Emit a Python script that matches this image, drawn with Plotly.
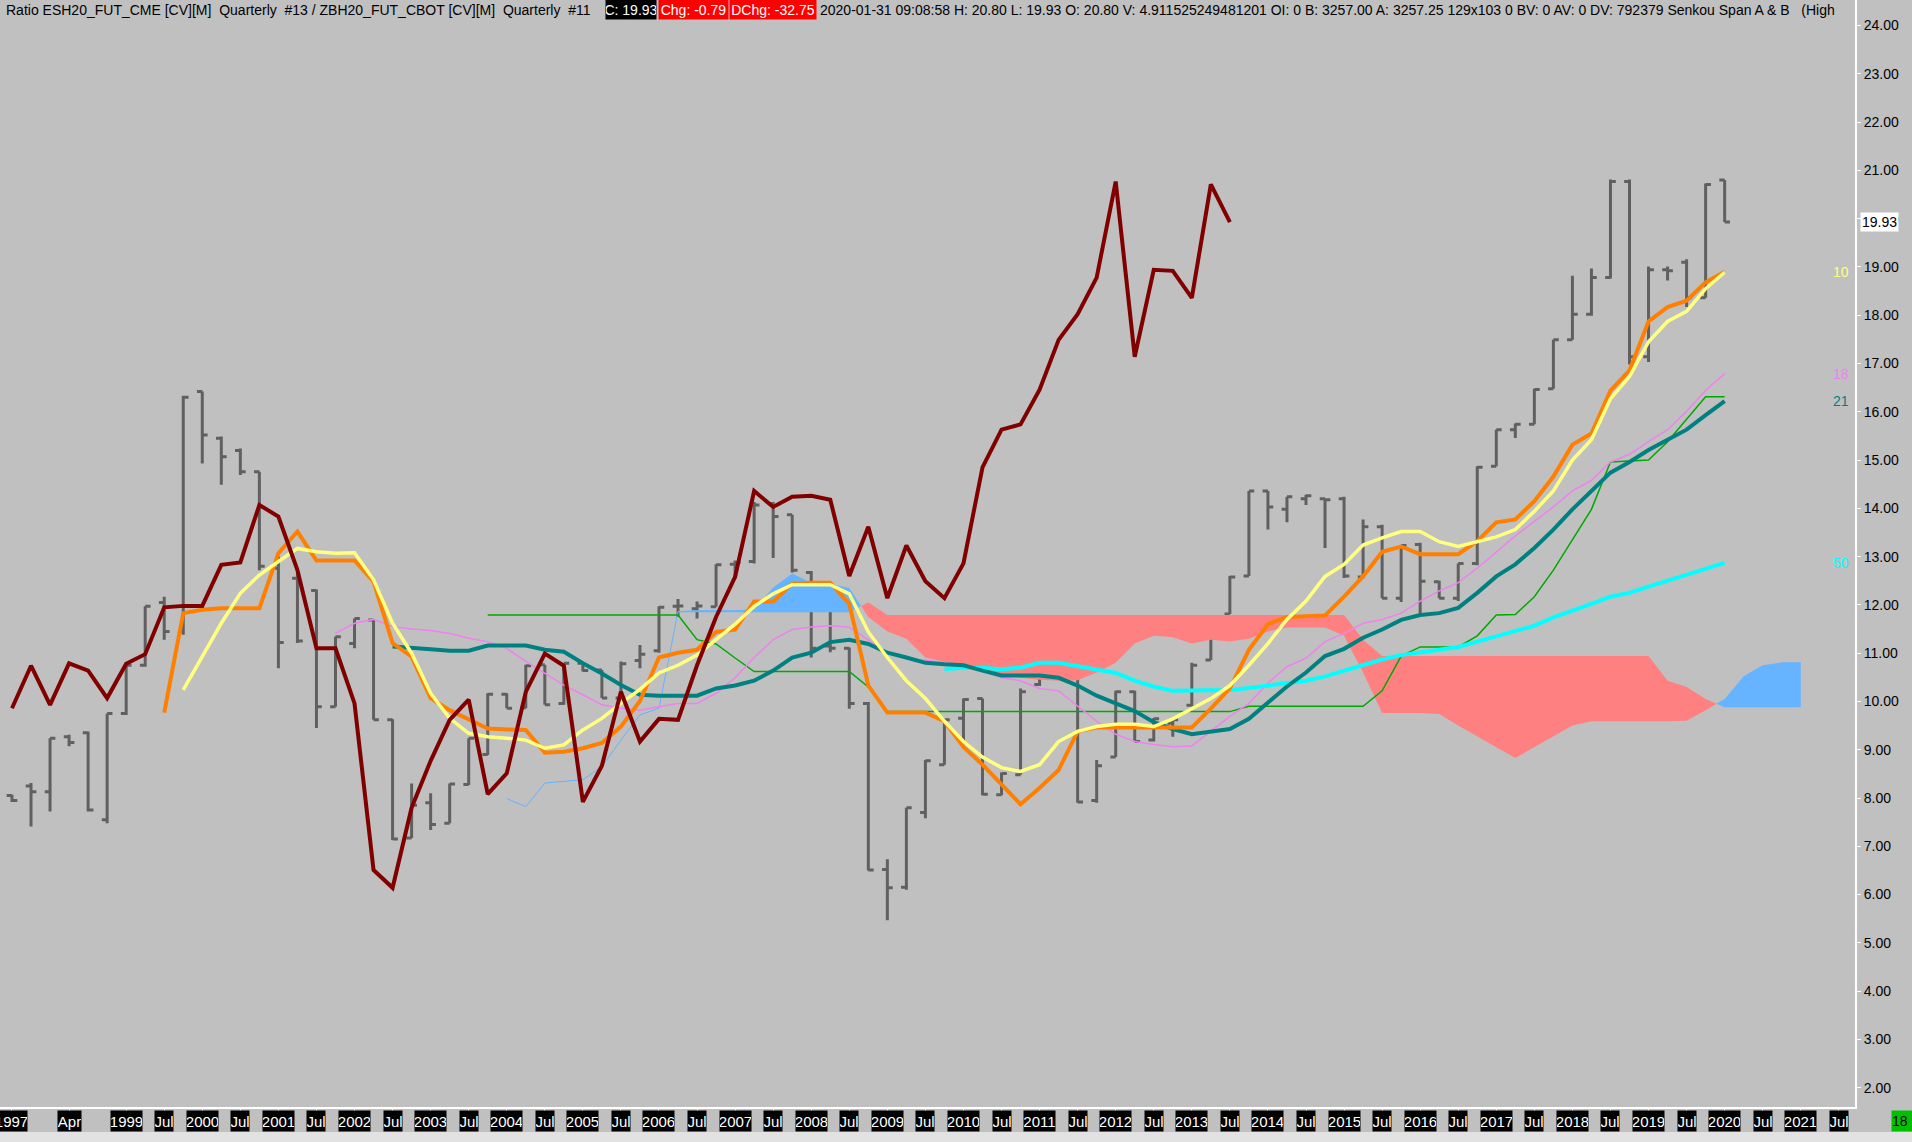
import numpy as np
import plotly.graph_objects as go

# Quarterly bars, ratio ES / ZB, first bar = 1997Q3
first_quarter = "1997Q3"

open_px = [8.05, 8.25, 8.13, 9.27, 9.35, 7.55, 9.75, 10.75, 12.05, 11.45,
           16.42, 15.45, 15.20, 14.76, 12.76, 12.55, 12.30, 9.89, 11.20, 11.69,
           9.62, 7.17, 7.90, 7.48, 8.28, 8.90, 10.15, 9.87, 10.76, 9.96,
           10.79, 10.65, 10.07, 10.85, 11.05, 11.97, 11.92, 11.96, 12.84, 12.90,
           14.10, 13.87, 12.67, 11.15, 11.10, 9.96, 6.52, 6.15, 7.70, 8.69,
           9.65, 10.06, 8.07, 8.48, 10.35, 10.98, 10.70, 7.95, 8.85, 10.20,
           9.20, 9.55, 9.92, 10.86, 11.81, 12.60, 14.36, 13.98, 14.20, 14.20,
           14.20, 12.58, 13.62, 12.14, 13.25, 12.48, 12.14, 12.86, 14.87, 15.63,
           15.74, 16.48, 17.49, 18.02, 18.78, 20.77, 17.14, 18.94, 19.10, 18.36,
           20.80]
high_px = [8.07, 8.31, 9.24, 9.31, 9.38, 9.75, 10.76, 11.97, 12.17, 16.33,
           16.42, 15.49, 15.24, 14.76, 13.00, 12.66, 12.32, 11.34, 11.72, 11.69,
           9.63, 8.30, 8.10, 8.30, 9.24, 10.17, 10.17, 10.76, 10.76, 10.79,
           10.79, 10.65, 10.83, 11.17, 11.97, 12.12, 12.07, 12.84, 12.92, 14.13,
           14.13, 13.87, 12.70, 11.95, 11.12, 9.99, 6.73, 7.80, 8.79, 9.64,
           10.06, 10.06, 8.53, 10.27, 11.00, 11.00, 10.70, 8.79, 10.22, 10.22,
           9.66, 9.66, 10.80, 11.79, 12.60, 14.36, 14.36, 14.24, 14.28, 14.20,
           14.24, 13.77, 13.66, 13.24, 13.29, 12.50, 12.86, 14.87, 15.63, 15.76,
           16.48, 17.49, 18.82, 18.97, 20.81, 20.81, 19.01, 19.01, 19.16, 20.73,
           20.80]
low_px = [7.92, 7.41, 7.72, 9.07, 7.72, 7.48, 9.72, 10.72, 11.28, 11.38,
          14.93, 14.49, 14.69, 12.72, 10.69, 11.21, 9.45, 9.89, 11.10, 9.62,
          7.13, 7.17, 7.34, 7.48, 8.27, 8.89, 9.86, 9.86, 9.93, 9.93,
          10.62, 10.07, 10.07, 10.69, 11.01, 11.75, 11.72, 11.96, 12.55, 12.86,
          12.97, 12.67, 10.91, 11.02, 9.85, 6.50, 5.47, 6.10, 7.58, 8.69,
          9.11, 8.06, 8.06, 8.48, 10.32, 10.70, 7.90, 7.90, 8.85, 9.17,
          9.17, 9.27, 9.90, 10.86, 11.81, 12.60, 13.56, 13.71, 14.07, 13.18,
          12.56, 12.55, 12.14, 12.06, 11.79, 12.14, 12.08, 12.82, 14.87, 15.46,
          15.74, 16.48, 17.49, 17.99, 18.76, 16.98, 17.03, 18.72, 18.17, 18.36,
          19.93]
close_px = [7.95, 8.13, 9.24, 9.15, 7.75, 9.75, 10.75, 11.97, 11.45, 16.30,
            15.52, 15.07, 14.76, 12.80, 11.22, 11.25, 9.89, 11.34, 11.72, 9.62,
            7.15, 7.85, 7.45, 8.29, 9.24, 10.15, 9.86, 10.74, 9.93, 10.79,
            10.64, 10.07, 10.78, 10.98, 11.95, 11.98, 11.98, 12.83, 12.88, 14.07,
            13.83, 12.72, 11.10, 11.10, 9.96, 6.51, 6.14, 7.80, 8.77, 9.62,
            10.04, 8.08, 8.51, 10.20, 10.99, 10.74, 7.92, 8.67, 10.20, 9.17,
            9.64, 9.62, 10.75, 11.75, 12.58, 14.36, 14.03, 14.24, 14.26, 14.18,
            12.60, 13.62, 12.14, 13.23, 12.49, 12.14, 12.86, 14.85, 15.63, 15.74,
            16.46, 17.49, 18.02, 18.78, 20.77, 17.14, 18.94, 18.92, 18.36, 20.71,
            19.93]

# lagging span = close plotted 26 bars back
lag_shift = 26

# orange line (no label)
orange_start = "1999Q3"
orange_vals = [9.77, 11.83, 11.90, 11.93, 11.93, 11.93, 13.07, 13.52, 12.92, 12.92,
               12.92, 12.48, 11.21, 10.93, 10.07, 9.82, 9.62, 9.44, 9.42, 9.41,
               8.94, 8.96, 9.03, 9.14, 9.48, 10.01, 10.91, 11.01, 11.07, 11.44,
               11.49, 12.07, 12.07, 12.44, 12.46, 12.46, 12.02, 10.33, 9.77, 9.77,
               9.77, 9.59, 9.06, 8.69, 8.27, 7.87, 8.21, 8.58, 9.38, 9.46,
               9.46, 9.46, 9.46, 9.46, 9.46, 9.85, 10.27, 11.07, 11.60, 11.75,
               11.76, 11.78, 12.17, 12.59, 13.10, 13.21, 13.05, 13.05, 13.05, 13.32,
               13.71, 13.77, 14.15, 14.66, 15.32, 15.55, 16.44, 16.86, 17.87, 18.17,
               18.30, 18.68, 18.90]

# average 10
ma10_start = "1999Q4"
ma10_vals = [10.24, 10.93, 11.62, 12.24, 12.62, 12.90, 13.17, 13.10, 13.07, 13.08,
             12.52, 11.62, 11.00, 10.17, 9.65, 9.34, 9.27, 9.24, 9.20, 9.03,
             9.10, 9.41, 9.65, 9.96, 10.25, 10.59, 10.75, 10.96, 11.28, 11.60,
             11.97, 12.23, 12.42, 12.42, 12.42, 12.23, 11.44, 10.91, 10.43, 10.06,
             9.59, 9.17, 8.85, 8.63, 8.55, 8.69, 9.17, 9.38, 9.48, 9.53,
             9.53, 9.48, 9.64, 9.85, 10.06, 10.33, 10.75, 11.20, 11.70, 12.08,
             12.59, 12.84, 13.24, 13.39, 13.52, 13.52, 13.31, 13.21, 13.31, 13.41,
             13.56, 13.94, 14.36, 15.00, 15.42, 16.27, 16.73, 17.45, 17.87, 18.08,
             18.55, 18.89]

# average 18
ma18_start = "2001Q4"
ma18_vals = [11.41, 11.62, 11.70, 11.55, 11.50, 11.47, 11.41, 11.31, 11.24, 11.10,
             10.83, 10.58, 10.34, 10.14, 9.93, 9.86, 9.82, 9.89, 9.96, 9.96,
             10.17, 10.49, 10.91, 11.28, 11.49, 11.54, 11.57, 11.54, 11.28, 11.01,
             10.88, 10.86, 10.80, 10.75, 10.64, 10.49, 10.43, 10.27, 10.22, 9.90,
             9.59, 9.32, 9.17, 9.11, 9.06, 9.08, 9.38, 9.69, 9.96, 10.38,
             10.72, 10.90, 11.24, 11.41, 11.62, 11.70, 11.83, 12.08, 12.29, 12.46,
             12.76, 13.10, 13.43, 13.73, 14.03, 14.36, 14.58, 14.96, 15.12, 15.38,
             15.63, 16.01, 16.44, 16.79]

# average 21
ma21_start = "2002Q3"
ma21_vals = [11.14, 11.10, 11.08, 11.05, 11.05, 11.16, 11.16, 11.16, 11.07, 11.03,
             10.79, 10.58, 10.34, 10.14, 10.12, 10.12, 10.12, 10.27, 10.33, 10.43,
             10.64, 10.91, 11.01, 11.23, 11.28, 11.19, 11.01, 10.91, 10.80, 10.77,
             10.75, 10.64, 10.54, 10.54, 10.54, 10.49, 10.33, 10.12, 9.96, 9.80,
             9.57, 9.43, 9.32, 9.38, 9.43, 9.64, 9.97, 10.31, 10.60, 10.94,
             11.09, 11.32, 11.49, 11.69, 11.79, 11.83, 11.94, 12.25, 12.59, 12.84,
             13.18, 13.56, 13.98, 14.36, 14.74, 14.96, 15.21, 15.42, 15.63, 15.93,
             16.22]

# average 50
ma50_start = "2009Q4"
ma50_vals = [10.67, 10.70, 10.70, 10.67, 10.70, 10.80, 10.80, 10.73, 10.64, 10.59,
             10.43, 10.31, 10.22, 10.22, 10.22, 10.24, 10.28, 10.33, 10.39, 10.43,
             10.52, 10.64, 10.77, 10.87, 10.96, 11.01, 11.07, 11.13, 11.24, 11.35,
             11.45, 11.57, 11.74, 11.87, 12.02, 12.17, 12.25, 12.38, 12.50, 12.63,
             12.76, 12.87]

# kijun (green)
kijun_start = "2003Q4"
kijun_vals = [11.79, 11.79, 11.79, 11.79, 11.79, 11.79, 11.79, 11.79, 11.79, 11.79,
              11.79, 11.28, 11.19, 10.90, 10.62, 10.62, 10.62, 10.62, 10.62, 10.62,
              10.30, 9.79, 9.79, 9.79, 9.79, 9.79, 9.79, 9.79, 9.79, 9.79,
              9.79, 9.79, 9.79, 9.79, 9.79, 9.79, 9.79, 9.79, 9.79, 9.79,
              9.90, 9.90, 9.90, 9.90, 9.90, 9.90, 9.90, 10.22, 10.94, 11.13,
              11.13, 11.13, 11.36, 11.79, 11.80, 12.17, 12.72, 13.35, 13.98, 14.96,
              14.98, 15.00, 15.38, 15.84, 16.31, 16.31]

# Senkou Span A & B
span_a_start = "2004Q1"
span_a_vals = [7.99, 7.82, 8.31, 8.34, 8.38, 8.65, 9.20, 9.72, 9.86, 11.86,
               11.88, 11.88, 11.88, 11.90, 12.36, 12.65, 12.46, 12.44, 12.35, 11.75,
               11.45, 11.30, 10.91, 10.82, 10.77, 10.62, 10.56, 10.49, 10.45, 10.43,
               10.44, 10.60, 10.80, 11.20, 11.36, 11.33, 11.20, 11.28, 11.24, 11.30,
               11.45, 11.53, 11.53, 11.53, 11.36, 10.60, 9.76, 9.76, 9.76, 9.74,
               9.50, 9.27, 9.05, 8.83, 9.06, 9.28, 9.50, 9.59, 9.59, 9.59,
               9.59, 9.59, 9.60, 9.82, 10.05, 10.52, 10.75, 10.81, 10.81]
span_a_line_end = "2007Q2"
span_b_start = "2006Q2"
span_b_vals = [11.85, 11.85, 11.85, 11.85, 11.85, 11.85, 11.85, 11.85, 11.85, 11.85,
               12.05, 11.79, 11.79, 11.79, 11.79, 11.79, 11.79, 11.79, 11.79, 11.79,
               11.79, 11.79, 11.79, 11.79, 11.79, 11.79, 11.79, 11.79, 11.79, 11.79,
               11.79, 11.79, 11.79, 11.79, 11.79, 11.79, 11.28, 10.94, 10.94, 10.94,
               10.94, 10.94, 10.94, 10.94, 10.94, 10.94, 10.94, 10.94, 10.94, 10.94,
               10.94, 10.94, 10.43, 10.30, 10.05, 9.88, 9.88, 9.88, 9.88, 9.88]

tick_quarters = ["1997Q3", "1998Q2"] + [f"{y}Q{q}" for y in range(1999, 2022) for q in (1, 3)]
tick_text = ["1997", "Apr"] + [str(y) if q == 1 else "Jul" for y in range(1999, 2022) for q in (1, 3)]

last_price = "19.93"
header_main = "Ratio ESH20_FUT_CME [CV][M]  Quarterly  #13 / ZBH20_FUT_CBOT [CV][M]  Quarterly  #11"
header_close = "C: 19.93"
header_chg = "Chg: -0.79"
header_dchg = "DChg: -32.75"
header_rest = ("2020-01-31 09:08:58 H: 20.80 L: 19.93 O: 20.80 V: 4.911525249481201 OI: 0 "
               "B: 3257.00 A: 3257.25 129x103 0 BV: 0 AV: 0 DV: 792379 Senkou Span A & B   (High")

BG = "#c0c0c0"
FONT = "Liberation Sans"


def qidx(q):
    y0, q0 = int(first_quarter[:4]), int(first_quarter[5])
    return (int(q[:4]) - y0) * 4 + int(q[5]) - q0


def xs_for(start, vals):
    return np.arange(len(vals)) + qidx(start)


def nb(s):
    return s.replace("  ", "\u00a0\u00a0")


fig = go.Figure()

# --- ichimoku cloud, split where span A and span B cross
xa = xs_for(span_a_start, span_a_vals)
xb = xs_for(span_b_start, span_b_vals)
c0 = max(xa[0], xb[0])
c1 = min(xa[-1], xb[-1])
cx = np.arange(c0, c1 + 1)
ca = np.array(span_a_vals)[cx - xa[0]]
cb = np.array(span_b_vals)[cx - xb[0]]

runs = []
px, up, lo = [cx[0]], [max(ca[0], cb[0])], [min(ca[0], cb[0])]
sign = ca[0] >= cb[0]
for k in range(1, len(cx)):
    s = ca[k] >= cb[k]
    if s != sign:
        d0, d1 = ca[k - 1] - cb[k - 1], ca[k] - cb[k]
        t = d0 / (d0 - d1)
        xc = cx[k - 1] + t
        yc = ca[k - 1] + t * (ca[k] - ca[k - 1])
        px.append(xc); up.append(yc); lo.append(yc)
        runs.append((sign, px, up, lo))
        px, up, lo = [xc], [yc], [yc]
        sign = s
    px.append(cx[k]); up.append(max(ca[k], cb[k])); lo.append(min(ca[k], cb[k]))
runs.append((sign, px, up, lo))

for bull, px, up, lo in runs:
    fig.add_trace(go.Scatter(
        x=list(px) + list(px)[::-1], y=list(up) + list(lo)[::-1],
        fill="toself", fillcolor="#66b3ff" if bull else "#ff8080",
        mode="lines", line=dict(width=0), hoverinfo="skip"))

# span A line before the cloud
n_line = qidx(span_a_line_end) - qidx(span_a_start) + 1
fig.add_trace(go.Scatter(x=xa[:n_line], y=span_a_vals[:n_line], mode="lines",
                         line=dict(color="#66b3ff", width=1)))

# thin lines
fig.add_trace(go.Scatter(x=xs_for(kijun_start, kijun_vals), y=kijun_vals, mode="lines",
                         line=dict(color="#00a800", width=1.5)))
fig.add_trace(go.Scatter(x=xs_for(ma18_start, ma18_vals), y=ma18_vals, mode="lines",
                         line=dict(color="#ee82ee", width=1.5)))

# thick averages
fig.add_trace(go.Scatter(x=xs_for(ma50_start, ma50_vals), y=ma50_vals, mode="lines",
                         line=dict(color="#00ffff", width=4)))
fig.add_trace(go.Scatter(x=xs_for(ma21_start, ma21_vals), y=ma21_vals, mode="lines",
                         line=dict(color="#008080", width=4)))
fig.add_trace(go.Scatter(x=xs_for(orange_start, orange_vals), y=orange_vals, mode="lines",
                         line=dict(color="#ff8000", width=4)))
fig.add_trace(go.Scatter(x=xs_for(ma10_start, ma10_vals), y=ma10_vals, mode="lines",
                         line=dict(color="#ffff80", width=3.5)))

# bars
bar_x = np.arange(len(close_px))
fig.add_trace(go.Ohlc(
    x=bar_x, open=open_px, high=high_px, low=low_px, close=close_px,
    increasing=dict(line=dict(color="#606060", width=3)),
    decreasing=dict(line=dict(color="#606060", width=3)),
    tickwidth=0.28, hoverinfo="skip"))

# lagging span
fig.add_trace(go.Scatter(x=bar_x[:-lag_shift], y=close_px[lag_shift:], mode="lines",
                         line=dict(color="#800000", width=4)))

annotations = []

# time axis labels (white on black)
label_y = -14 / 1107
for q, t in zip(tick_quarters, tick_text):
    annotations.append(dict(
        x=qidx(q), y=label_y, xref="x", yref="paper", text=t, showarrow=False,
        font=dict(family="Liberation Sans Narrow, " + FONT, size=15, color="white"),
        bgcolor="black", width=31 if t[0].isdigit() else (23 if t == "Apr" else 18),
        height=20, borderpad=0, xanchor="center", yanchor="middle"))

# header line
head_y = 1 - 10 / 1107
annotations.append(dict(x=4 / 1855, y=head_y, xref="paper", yref="paper", text=nb(header_main),
                        showarrow=False, xanchor="left", yanchor="middle",
                        font=dict(family=FONT, size=14, color="black")))
for txt, x0, w, bg in [(header_close, 605, 50, "black"), (header_chg, 658, 69, "#ff0000"),
                       (header_dchg, 729, 86, "#ff0000")]:
    annotations.append(dict(x=x0 / 1855, y=1 - 9.5 / 1107, xref="paper", yref="paper", text=txt,
                            showarrow=False, xanchor="left", yanchor="middle", bgcolor=bg,
                            width=w, height=19, borderpad=0,
                            font=dict(family=FONT, size=14, color="white")))
annotations.append(dict(x=818 / 1855, y=head_y, xref="paper", yref="paper", text=nb(header_rest),
                        showarrow=False, xanchor="left", yanchor="middle",
                        font=dict(family=FONT, size=14, color="black")))

# last value labels
for txt, val, col in [("10", ma10_vals[-1], "#ffff80"), ("18", ma18_vals[-1], "#ee82ee"),
                      ("21", ma21_vals[-1], "#008080"), ("50", ma50_vals[-1], "#00ffff")]:
    annotations.append(dict(x=1, y=val, xref="paper", yref="y", text=txt, showarrow=False,
                            xanchor="right", yanchor="middle", xshift=-4,
                            font=dict(family=FONT, size=14, color=col)))
annotations.append(dict(x=1, y=float(last_price), xref="paper", yref="y", text=last_price,
                        showarrow=False, xanchor="left", yanchor="middle", xshift=5,
                        bgcolor="white", borderpad=1,
                        font=dict(family=FONT, size=14, color="black")))
annotations.append(dict(x=1891 / 1855, y=label_y, xref="paper", yref="paper", text="18 L",
                        showarrow=False, xanchor="left", yanchor="middle", bgcolor="#00c000",
                        height=20, borderpad=0,
                        font=dict(family=FONT, size=14, color="black")))

shapes = [dict(type="rect", xref="paper", yref="paper", x0=-0.01, x1=1.04,
               y0=-35 / 1107, y1=-25 / 1107, fillcolor="#e2e2e2", line=dict(width=0),
               layer="above")]

fig.update_layout(
    width=1912, height=1142,
    margin=dict(l=0, r=57, t=0, b=35),
    paper_bgcolor=BG, plot_bgcolor=BG,
    showlegend=False,
    annotations=annotations,
    shapes=shapes,
    xaxis=dict(range=[-0.63, 96.85], showgrid=False, zeroline=False,
               showline=True, linecolor="white", linewidth=2,
               ticks="outside", ticklen=3, tickcolor="white",
               tickvals=[qidx(q) for q in tick_quarters], showticklabels=False,
               rangeslider=dict(visible=False)),
    yaxis=dict(range=[1.60, 24.53], side="right", showgrid=False, zeroline=False,
               showline=True, linecolor="white", linewidth=2,
               ticks="outside", ticklen=4, tickcolor="white",
               tick0=0, dtick=1, tickformat=".2f",
               tickfont=dict(family=FONT, size=14, color="black")),
)

# page body margin off so the chart sits at the window corner, no modebar
fig.write_html("out.html", config={"displayModeBar": False},
               post_script="document.body.style.margin='0';document.body.style.padding='0';")
